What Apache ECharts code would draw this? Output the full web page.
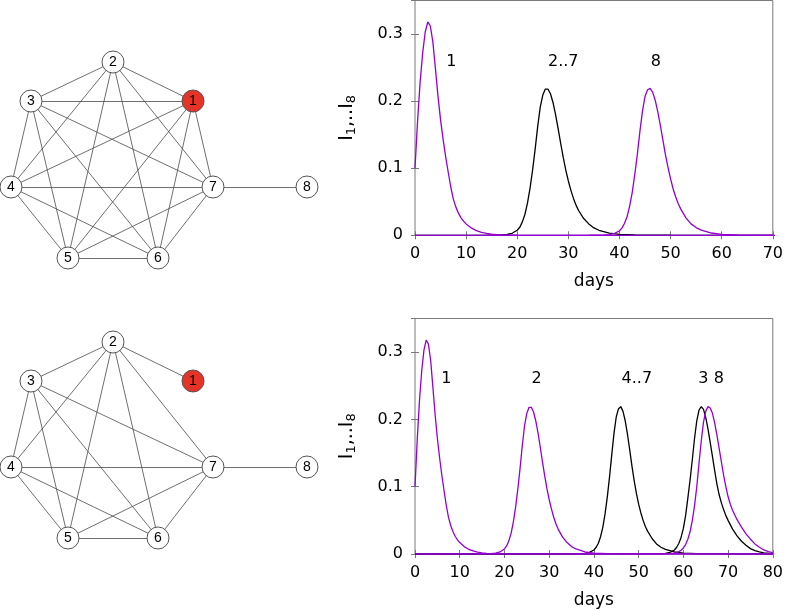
<!DOCTYPE html>
<html><head><meta charset="utf-8">
<script src="https://cdn.jsdelivr.net/npm/echarts@6/dist/echarts.min.js"></script>
<style>html,body{margin:0;padding:0;background:#fff}#c{width:786px;height:611px}</style>
</head><body><div id="c"></div>
<script>
// ---------- network data ----------
const nodeNames = ['1','2','3','4','5','6','7','8'];
const nodeLayoutX = [193,113,31,11,68,158,213,307];
const nodeLayoutY = [101,62,101,187,258,258,187,187];
const seedNode = '1';
const edgesTop = [[1,2],[1,3],[1,4],[1,5],[1,6],[1,7],[2,3],[2,4],[2,5],[2,6],[2,7],[3,4],[3,5],[3,6],[3,7],[4,5],[4,6],[4,7],[5,6],[5,7],[6,7],[7,8]];
const edgesBottom = [[1,2],[2,3],[2,4],[2,5],[2,6],[2,7],[3,4],[3,5],[3,6],[3,7],[4,5],[4,6],[4,7],[5,6],[5,7],[6,7],[7,8]];

// ---------- time series ----------
const daysI1 = [0,0.5,1,1.5,2,2.5,3,3.5,4,4.5,5,5.5,6,6.5,7,7.5,8,8.5,9,9.5,10,11,12,13,14,15,16,18,20,30,80];
const valsI1 = [0.100,0.170,0.228,0.272,0.303,0.318,0.312,0.288,0.248,0.207,0.172,0.143,0.117,0.094,0.072,0.054,0.042,0.033,0.026,0.021,0.017,0.011,0.007,0.0045,0.0028,0.0017,0.001,0.0003,0.0001,0,0];

const daysTopI2to7 = [0,14,17,18,19,20,20.5,21,21.5,22,22.5,23,23.5,24,24.5,25,25.5,26,26.5,27,27.5,28,28.5,29,29.5,30,30.5,31,31.5,32,33,34,35,36,38,40,43,50,70];
const valsTopI2to7 = [0,0.0001,0.0006,0.0012,0.003,0.0075,0.012,0.020,0.031,0.048,0.070,0.097,0.128,0.162,0.191,0.209,0.218,0.218,0.211,0.198,0.180,0.159,0.137,0.116,0.097,0.081,0.067,0.055,0.045,0.037,0.025,0.017,0.011,0.0075,0.0033,0.0014,0.0005,0.0001,0];

const daysTopI8 = [0,34,37,38,39,40,40.5,41,41.5,42,42.5,43,43.5,44,44.5,45,45.5,46,46.5,47,47.5,48,48.5,49,49.5,50,50.5,51,51.5,52,53,54,55,56,58,60,63,70];
const valsTopI8 = [0,0.0001,0.0005,0.0011,0.0027,0.0067,0.011,0.018,0.028,0.044,0.064,0.091,0.121,0.155,0.185,0.207,0.217,0.219,0.213,0.201,0.184,0.164,0.142,0.120,0.101,0.084,0.069,0.057,0.047,0.039,0.026,0.017,0.0115,0.0078,0.0034,0.0015,0.0005,0.0001];

const daysBotI2 = [0,14,17,18,19,20,20.5,21,21.5,22,22.5,23,23.5,24,24.5,25,25.5,26,26.5,27,27.5,28,28.5,29,29.5,30,30.5,31,31.5,32,33,34,35,36,38,40,43,50,80];
const valsBotI2 = [0,0.0001,0.0006,0.0012,0.003,0.0075,0.012,0.020,0.031,0.048,0.070,0.097,0.128,0.162,0.191,0.209,0.218,0.218,0.211,0.198,0.180,0.159,0.137,0.116,0.097,0.081,0.067,0.055,0.045,0.037,0.025,0.017,0.011,0.0075,0.0033,0.0014,0.0005,0.0001,0];

const daysBotI4to7 = [0,34,37,38,39,40,40.5,41,41.5,42,42.5,43,43.5,44,44.5,45,45.5,46,46.5,47,47.5,48,48.5,49,49.5,50,50.5,51,51.5,52,53,54,55,56,58,60,63,80];
const valsBotI4to7 = [0,0.0001,0.0005,0.001,0.0025,0.006,0.010,0.016,0.026,0.040,0.060,0.085,0.115,0.148,0.180,0.204,0.216,0.219,0.212,0.198,0.178,0.155,0.131,0.109,0.090,0.074,0.061,0.050,0.041,0.034,0.023,0.015,0.010,0.0068,0.003,0.0013,0.0004,0];

const daysBotI3 = [0,52,55,56,57,58,58.5,59,59.5,60,60.5,61,61.5,62,62.5,63,63.5,64,64.5,65,65.5,66,66.5,67,67.5,68,68.5,69,69.5,70,71,72,73,74,75,76,77,78,80];
const valsBotI3 = [0,0.0001,0.0005,0.001,0.0025,0.006,0.010,0.016,0.025,0.038,0.057,0.083,0.110,0.140,0.172,0.198,0.214,0.219,0.215,0.203,0.186,0.166,0.145,0.124,0.104,0.088,0.076,0.066,0.057,0.050,0.037,0.027,0.019,0.013,0.008,0.005,0.003,0.0018,0.0006];

const daysBotI8 = [0,54,57,58,59,59.5,60,60.5,61,61.5,62,62.5,63,63.5,64,64.5,65,65.5,66,66.5,67,67.5,68,68.5,69,69.5,70,70.5,71,71.5,72,73,74,75,76,77,78,79,80];
const valsBotI8 = [0,0.0001,0.0005,0.0013,0.0035,0.0055,0.009,0.014,0.022,0.033,0.050,0.072,0.100,0.135,0.168,0.196,0.212,0.219,0.217,0.209,0.195,0.177,0.157,0.137,0.117,0.100,0.085,0.074,0.065,0.058,0.051,0.040,0.030,0.022,0.015,0.010,0.006,0.0035,0.002];

// ---------- annotations & ticks ----------
const topLabelTexts = ['1','2..7','8'];
const topLabelDays = [7.1, 29.0, 47.1];
const topLabelVals = [0.259, 0.259, 0.259];
const botLabelTexts = ['1','2','4..7','3 8'];
const botLabelDays = [7.0, 27.2, 49.6, 66.2];
const botLabelVals = [0.26, 0.26, 0.26, 0.26];
const topDaysMax = 70, botDaysMax = 80, dayStep = 10;
const yMax = 0.35, yStep = 0.1;
const xName = 'days';

// ---------- build ----------
const PURPLE = '#9400d3', BLACK = '#000000', FRAME = '#7a7a7a';
const FONT = 'DejaVu Sans';
const pts = (d, v) => d.map((t, i) => [t, v[i]]);

function graphSeries(edges, gi) {
  return {
    type: 'graph', coordinateSystem: 'cartesian2d', xAxisIndex: gi, yAxisIndex: gi,
    symbol: 'circle', symbolSize: 22, silent: true, z: 5,
    data: nodeNames.map((n, i) => ({
      name: n, value: [nodeLayoutX[i], nodeLayoutY[i]],
      itemStyle: { color: n === seedNode ? '#e53327' : '#ffffff', borderColor: '#555', borderWidth: 1 }
    })),
    links: edges.map(e => ({ source: String(e[0]), target: String(e[1]) })),
    lineStyle: { color: '#4a4a4a', width: 0.8, opacity: 1, curveness: 0 },
    label: { show: true, position: 'inside', color: '#000', fontSize: 14, fontFamily: 'Liberation Sans' },
    emphasis: { disabled: true }
  };
}
function lineSeries(d, v, color, gi) {
  return { type: 'line', xAxisIndex: gi, yAxisIndex: gi, data: pts(d, v), showSymbol: false, symbol: 'none',
    lineStyle: { color: color, width: 1.3 }, itemStyle: { color: color }, silent: true, clip: true, z: 3 };
}
function labelSeries(texts, d, v, gi) {
  return { type: 'scatter', xAxisIndex: gi, yAxisIndex: gi, symbolSize: 0, silent: true, z: 6,
    itemStyle: { color: '#000', opacity: 1 },
    emphasis: { disabled: true },
    data: texts.map((s, i) => ({ name: s, value: [d[i], v[i]] })),
    label: { show: true, position: [0, 0], align: 'center', verticalAlign: 'middle', formatter: '{b}',
      color: '#000', opacity: 1, textBorderWidth: 0, fontSize: 16, fontFamily: FONT } };
}
function xBottom(gi, max) {
  return { gridIndex: gi, type: 'value', position: 'bottom', min: 0, max: max, interval: dayStep,
    axisLine: { show: false }, splitLine: { show: false },
    axisTick: { inside: true, length: 4, lineStyle: { color: FRAME } },
    axisLabel: { color: '#000', fontSize: 16, fontFamily: FONT, margin: 11 },
    name: xName, nameLocation: 'middle', nameGap: 38,
    nameTextStyle: { color: '#000', fontSize: 17, fontFamily: FONT } };
}
function xTop(gi, max) {
  return { gridIndex: gi, type: 'value', position: 'top', min: 0, max: max, interval: dayStep,
    axisLine: { show: false }, splitLine: { show: false }, axisLabel: { show: false },
    axisTick: { inside: true, length: 4, lineStyle: { color: FRAME } } };
}
function yLeft(gi) {
  return { gridIndex: gi, type: 'value', position: 'left', min: 0, max: yMax, interval: yStep,
    axisLine: { show: false }, splitLine: { show: false },
    axisTick: { inside: true, length: 4, lineStyle: { color: FRAME } },
    axisLabel: { color: '#000', fontSize: 16, fontFamily: FONT, margin: 12, showMaxLabel: false },
    name: '{a|I}{b|1}{a|,..I}{b|8}', nameLocation: 'middle', nameGap: 56,
    nameTextStyle: { color: '#000', fontSize: 19, fontFamily: FONT,
      rich: { a: { fontSize: 19, fontFamily: FONT, color: '#000', lineHeight: 24 },
              b: { fontSize: 13, fontFamily: FONT, color: '#000', lineHeight: 24, padding: [10, 0, 0, 0] } } } };
}
function yRight(gi) {
  return { gridIndex: gi, type: 'value', position: 'right', min: 0, max: yMax, interval: yStep,
    axisLine: { show: false }, splitLine: { show: false }, axisLabel: { show: false },
    axisTick: { inside: true, length: 4, lineStyle: { color: FRAME } } };
}
const hiddenX = gi => ({ gridIndex: gi, type: 'value', min: 0, max: 330, show: false });
const hiddenY = gi => ({ gridIndex: gi, type: 'value', min: 0, max: 290, inverse: true, show: false });

const chart = echarts.init(document.getElementById('c'), null, { renderer: 'canvas' });
chart.setOption({
  animation: false,
  backgroundColor: '#fff',
  grid: [
    { left: 0, top: 0, width: 330, height: 290 },
    { left: 0, top: 280, width: 330, height: 290 },
    { left: 415, right: 13, top: 0.5, height: 234.8, show: true, borderColor: FRAME, borderWidth: 1, backgroundColor: 'transparent' },
    { left: 415, right: 13, top: 318.5, height: 235.5, show: true, borderColor: FRAME, borderWidth: 1, backgroundColor: 'transparent' }
  ],
  xAxis: [hiddenX(0), hiddenX(1), xBottom(2, topDaysMax), xTop(2, topDaysMax), xBottom(3, botDaysMax), xTop(3, botDaysMax)],
  yAxis: [hiddenY(0), hiddenY(1), yLeft(2), yRight(2), yLeft(3), yRight(3)],
  series: [
    graphSeries(edgesTop, 0),
    graphSeries(edgesBottom, 1),
    lineSeries(daysTopI2to7, valsTopI2to7, BLACK, 2),
    lineSeries(daysI1, valsI1, PURPLE, 2),
    lineSeries(daysTopI8, valsTopI8, PURPLE, 2),
    labelSeries(topLabelTexts, topLabelDays, topLabelVals, 2),
    lineSeries(daysBotI4to7, valsBotI4to7, BLACK, 4),
    lineSeries(daysBotI3, valsBotI3, BLACK, 4),
    lineSeries(daysI1, valsI1, PURPLE, 4),
    lineSeries(daysBotI2, valsBotI2, PURPLE, 4),
    lineSeries(daysBotI8, valsBotI8, PURPLE, 4),
    labelSeries(botLabelTexts, botLabelDays, botLabelVals, 4)
  ]
});
</script></body></html>
